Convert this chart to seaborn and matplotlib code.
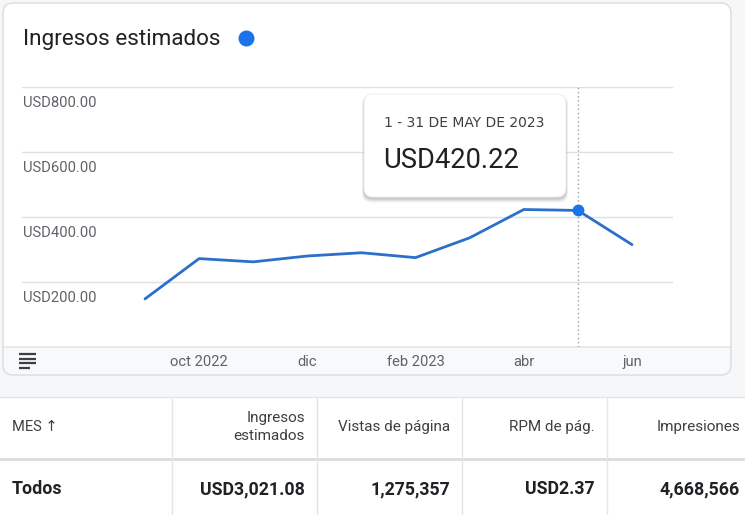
import matplotlib
matplotlib.use("Agg")
import matplotlib.pyplot as plt
import seaborn as sns
import pandas as pd
from matplotlib.patches import FancyBboxPatch, Rectangle
from matplotlib.lines import Line2D
import matplotlib.transforms as mtrans

# ---------------- data ----------------
months = ["sep 2022", "oct 2022", "nov 2022", "dic 2022", "ene 2023",
          "feb 2023", "mar 2023", "abr 2023", "may 2023", "jun 2023"]
revenue = [148, 272, 262, 280, 290, 275, 336, 423, 420.22, 315]
tick_positions = [1, 3, 5, 7, 9]
tick_labels = ["oct 2022", "dic", "feb 2023", "abr", "jun"]
y_ticks = [200, 400, 600, 800]
y_tick_labels = ["USD200.00", "USD400.00", "USD600.00", "USD800.00"]
highlight_index = 8
tooltip_title = "1 - 31 DE MAY DE 2023"
tooltip_value = "USD420.22"
chart_title = "Ingresos estimados"

table_headers = ["MES \u2191", "Ingresos\nestimados", "Vistas de página", "RPM de pág.", "Impresiones"]
table_row = ["Todos", "USD3,021.08", "1,275,357", "USD2.37", "4,668,566"]

# ---------------- style ----------------
sns.set_theme(style="white")
plt.rcParams["font.family"] = ["Roboto", "DejaVu Sans"]

W, H = 745, 515
fig = plt.figure(figsize=(W / 100, H / 100), dpi=100)
fig.patch.set_facecolor("#f6f7f8")

# background overlay axes in pixel coordinates
bg = fig.add_axes([0, 0, 1, 1], zorder=0)
bg.set_xlim(0, W); bg.set_ylim(H, 0); bg.axis("off")

# card
bg.add_patch(FancyBboxPatch((3, 3), 728, 372, boxstyle="round,pad=0,rounding_size=10",
                            fc="white", ec="none", zorder=1))
# bottom strip
bg.add_patch(FancyBboxPatch((3, 347), 728, 28, boxstyle="round,pad=0,rounding_size=10",
                            fc="#f8f9fa", ec="none", zorder=2))
bg.add_patch(Rectangle((3, 347), 728, 14, fc="#f8f9fa", ec="none", zorder=2))
bg.add_line(Line2D([3, 731], [347, 347], color="#e3e5e8", lw=1.2, zorder=3))
bg.add_patch(FancyBboxPatch((3, 3), 728, 372, boxstyle="round,pad=0,rounding_size=10",
                            fc="none", ec="#dadce0", lw=1.0, zorder=4))

# menu icon
for yy, x2 in zip([354, 358.5, 363, 367.5], [36, 36, 36, 30]):
    bg.add_line(Line2D([19, x2], [yy, yy], color="#3c4043", lw=1.6, zorder=5,
                       solid_capstyle="butt"))

# title and legend dot
bg.text(23, 39.5, chart_title, fontsize=16.2, color="#202124", va="center", ha="left", zorder=5)
bg.plot([246], [38], marker="o", markersize=10.5, color="#1a73e8", zorder=5)

# table
bg.add_patch(Rectangle((0, 397), W, H - 397, fc="white", ec="none", zorder=1))
bg.add_line(Line2D([0, W], [397, 397], color="#e3e5e8", lw=1.0, zorder=3))
bg.add_line(Line2D([0, W], [458.5, 458.5], color="#dadce0", lw=2.0, zorder=3))
for xx in [172, 317, 462, 607]:
    bg.add_line(Line2D([xx, xx], [397, H], color="#e3e5e8", lw=1.0, zorder=3))

col_right = [None, 305, 450, 595, 740]
for i, (hdr, val) in enumerate(zip(table_headers, table_row)):
    if i == 0:
        bg.text(12, 427, hdr, fontsize=10.5, color="#3c4043", ha="left", va="center", zorder=5)
        bg.text(12, 489, val, fontsize=12.8, color="#202124", ha="left", va="center",
                fontweight="bold", zorder=5)
    else:
        bg.text(col_right[i], 427, hdr, fontsize=11, color="#3c4043", ha="right", va="center",
                linespacing=1.4, zorder=5)
        bg.text(col_right[i], 489, val, fontsize=12.8, color="#202124", ha="right", va="center",
                fontweight="bold", zorder=5)

# ---------------- chart ----------------
x0, x1, ytop, ybot = 22, 673, 87, 347
ax = fig.add_axes([x0 / W, 1 - ybot / H, (x1 - x0) / W, (ybot - ytop) / H], zorder=1)
ax.patch.set_alpha(0)

df = pd.DataFrame({"idx": list(range(len(months))), "month": months, "revenue": revenue})
sns.lineplot(data=df, x="idx", y="revenue", ax=ax, color="#2c6fca", lw=2.0, zorder=3)

spacing = (632 - 145) / 9
ax.set_xlim(-(145 - x0) / spacing, 9 + (x1 - 632) / spacing)
ax.set_ylim(0, 800)
for s in ax.spines.values():
    s.set_visible(False)
ax.set_yticks(y_ticks)
ax.set_yticklabels([])
ax.tick_params(axis="y", length=0)
ax.grid(axis="y", color="#e0e0e0", lw=1.0)
ax.set_xticks(tick_positions)
ax.set_xticklabels(tick_labels, fontsize=10.6, color="#5f6368")
ax.tick_params(axis="x", length=0, pad=6)
ax.set_xlabel(""); ax.set_ylabel("")

ytrans = mtrans.offset_copy(ax.get_yaxis_transform(), fig=fig, x=0, y=-16 * 0.72, units="points")
for v, lab in zip(y_ticks, y_tick_labels):
    ax.text(1 / (x1 - x0), v, lab, transform=ytrans, fontsize=10.6, color="#5f6368",
            ha="left", va="center")

# crosshair and highlighted point
hx = df["idx"][highlight_index]
hy = df["revenue"][highlight_index]
ax.axvline(hx, color="#9aa0a6", lw=1.0, ls=(0, (1, 2)), zorder=2)
ax.plot([hx], [hy], marker="o", markersize=7.5, color="#1a73e8", zorder=4)

# ---------------- tooltip ----------------
fg = fig.add_axes([0, 0, 1, 1], zorder=3)
fg.set_xlim(0, W); fg.set_ylim(H, 0); fg.axis("off")
for k, a in enumerate([0.04, 0.05, 0.06, 0.07]):
    off = 4 - k
    fg.add_patch(FancyBboxPatch((364 - off * 0.5, 94 + 1.5), 202 + off, 103 + off,
                                boxstyle="round,pad=0,rounding_size=9",
                                fc="black", ec="none", alpha=a, zorder=1))
fg.add_patch(FancyBboxPatch((364, 94), 202, 103, boxstyle="round,pad=0,rounding_size=9",
                            fc="white", ec="#ececec", lw=0.6, zorder=2))
fg.text(384, 123, tooltip_title, fontsize=10.0, color="#3c4043", ha="left", va="center",
        family=["DejaVu Sans"], zorder=3)
fg.text(383, 161, tooltip_value, fontsize=19.7, color="#202124", ha="left", va="center", zorder=3)

fig.savefig("out.png", dpi=100, facecolor=fig.get_facecolor())
